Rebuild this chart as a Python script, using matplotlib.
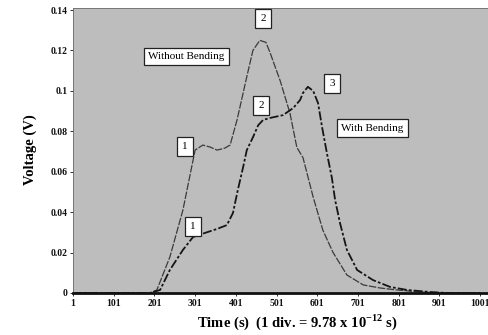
import matplotlib
matplotlib.use("Agg")
import matplotlib.pyplot as plt

# curve readings (time index, volts)
t_without = [1, 150, 190, 207, 239, 271, 301, 320, 338, 355, 374, 387, 404, 428, 443,
             460, 475, 485, 510, 534, 551, 566, 591, 615, 640, 674, 714, 755, 797, 854, 900, 1001]
v_without = [0, 0, 0, 0.0015, 0.0178, 0.041, 0.0707, 0.0732, 0.0722, 0.0707, 0.0717, 0.0732,
             0.0856, 0.107, 0.120, 0.125, 0.124, 0.119, 0.105, 0.089, 0.072, 0.067, 0.0475,
             0.031, 0.020, 0.0089, 0.004, 0.0025, 0.0015, 0.0005, 0, 0]

t_with = [1, 150, 190, 215, 239, 271, 296, 325, 355, 379, 394, 406, 419, 428, 443, 456, 468,
          485, 517, 542, 559, 566, 578, 591, 603, 613, 625, 637, 645, 657, 674, 699, 738, 780,
          822, 878, 920, 1001]
v_with = [0, 0, 0, 0.0015, 0.0114, 0.0213, 0.0277, 0.0297, 0.0317, 0.0336, 0.0396, 0.051,
          0.0623, 0.0707, 0.077, 0.083, 0.0856, 0.0866, 0.088, 0.0915, 0.0955, 0.099, 0.102,
          0.100, 0.094, 0.082, 0.069, 0.057, 0.046, 0.0346, 0.0213, 0.0114, 0.0064, 0.003,
          0.0015, 0.0005, 0, 0]

x_ticks = [1, 101, 201, 301, 401, 501, 601, 701, 801, 901, 1001]
y_ticks = [0, 0.02, 0.04, 0.06, 0.08, 0.1, 0.12, 0.14]
y_tick_labels = ["0", "0.02", "0.04", "0.06", "0.08", "0.1", "0.12", "0.14"]

# point labels: (text, time, volts)
markers = [("1", 276, 0.0727), ("2", 468, 0.1356), ("1", 296, 0.0331),
           ("2", 463, 0.093), ("3", 637, 0.1034)]
legends = [("Without Bending", 279, 0.117), ("With Bending", 736, 0.0816)]

serif = ["Liberation Serif", "DejaVu Serif"]

fig = plt.figure(figsize=(4.88, 3.35), dpi=100)
ax = fig.add_axes([73 / 488, 42 / 335, 415 / 488, 285 / 335])
ax.set_facecolor("#bdbdbd")

ax.plot(t_without, v_without, color="#3a3a3a", lw=0.9, dashes=(6, 1.2))
ax.plot(t_with, v_with, color="#151515", lw=1.3, dashes=(5, 1.2, 1.5, 1.2))

ax.set_xlim(1, 1020.6)
ax.set_ylim(0, 0.141)
ax.set_xticks(x_ticks)
ax.set_xticklabels([str(v) for v in x_ticks], fontfamily=serif, fontweight="bold", fontsize=7)
ax.set_yticks(y_ticks)
ax.set_yticklabels(y_tick_labels, fontfamily=serif, fontweight="bold", fontsize=7)
ax.tick_params(axis="both", length=2, width=0.6, pad=2, colors="#111111")

for side in ["left", "right", "top"]:
    ax.spines[side].set_color("#6a6a6a")
    ax.spines[side].set_linewidth(0.6)
ax.spines["bottom"].set_color("#111111")
ax.spines["bottom"].set_linewidth(2)

box = dict(boxstyle="square,pad=0.45", facecolor="white", edgecolor="#222222", lw=0.9)
for txt, tx, ty in markers:
    ax.text(tx, ty, txt, ha="center", va="center", fontsize=8, fontfamily=serif, bbox=box)
for txt, tx, ty in legends:
    ax.text(tx, ty, txt, ha="center", va="center", fontsize=8, fontfamily=serif,
            bbox=dict(boxstyle="square,pad=0.4", facecolor="white", edgecolor="#222222", lw=0.9))

fig.text(30 / 488, 1 - 150 / 335, "Voltage (V)", rotation=90, ha="center", va="center",
         fontsize=10.5, fontweight="bold", fontfamily=serif)
fig.text(297 / 488, 1 - 322 / 335, "Time (s)  (1 div. = 9.78 x 10$^{\\mathregular{-12}}$ s)",
         ha="center", va="center", fontsize=10.5, fontweight="bold", fontfamily=serif)

fig.savefig("out.png", dpi=100)
